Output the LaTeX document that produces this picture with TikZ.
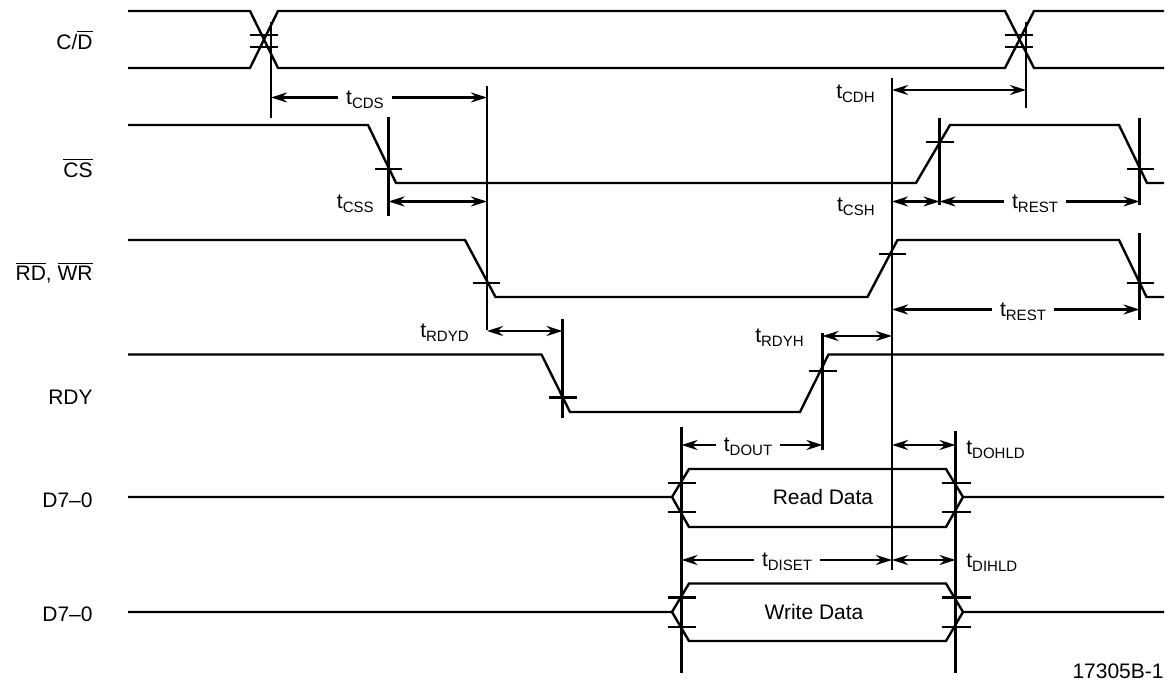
\documentclass[tikz,border=0pt]{standalone}
\usepackage{fontspec}
\setmainfont{Liberation Sans}
\usetikzlibrary{arrows.meta}

\tikzset{
  sig/.style={line width=1.2pt, line join=miter},
  tickline/.style={line width=1.2pt},
  dimline/.style={line width=1.2pt, {Stealth[length=8pt,width=5pt]}-{Stealth[length=8pt,width=5pt]}},
  lbl/.style={font=\fontsize{10.5}{12}\selectfont, inner sep=1pt},
  gaplbl/.style={lbl, fill=white, inner xsep=4pt},
}
\newcommand{\tsub}[1]{t\raisebox{-0.35ex}{\fontsize{7.5}{8}\selectfont #1}}

\begin{document}
\begin{tikzpicture}[x=0.5pt, y=-0.5pt]
  \useasboundingbox (0,0) rectangle (1169,683);

  % signal names
  \node[lbl, anchor=east] (ncd)  at (95,40)  {C/$\overline{\mbox{D}}$};
  \node[lbl, anchor=east] (ncs)  at (95,168) {$\overline{\mbox{CS}}$};
  \node[lbl, anchor=east] (nrw)  at (95,273) {$\overline{\mbox{RD}}$, $\overline{\mbox{WR}}$};
  \node[lbl, anchor=east] (nrdy) at (95,397) {RDY};
  \node[lbl, anchor=east] (nrd)  at (95,500) {D7--0};
  \node[lbl, anchor=east] (nwd)  at (95,614) {D7--0};

  % C/D
  \draw[sig] (128,11) -- (250,11) -- (278,68) -- (1005,68) -- (1034,11) -- (1164,11);
  \draw[sig] (128,68) -- (250,68) -- (278,11) -- (1005,11) -- (1034,68) -- (1164,68);
  \draw[tickline] (271,22) -- (271,118);
  \draw[tickline] (250,35) -- (278,35) (250,47) -- (278,47);
  \draw[tickline] (1026,22) -- (1026,108);
  \draw[tickline] (1005,35) -- (1033,35) (1005,47) -- (1033,47);

  % CS
  \draw[sig] (128,125) -- (368,125) -- (396,183) -- (916,183) -- (950,125)
    -- (1119,125) -- (1147,183) -- (1164,183);
  \draw[tickline] (388.5,117) -- (388.5,216) (375,169) -- (402,169);
  \draw[tickline] (939.5,118) -- (939.5,205) (925.5,142) -- (954,142);
  \draw[tickline] (1139.5,118) -- (1139.5,205) (1126.5,169) -- (1154,169);

  % RD, WR
  \draw[sig] (128,240) -- (465,240) -- (495.5,297) -- (867.5,297) -- (897.5,240)
    -- (1119,240) -- (1146.5,297) -- (1164,297);
  \draw[tickline] (487,86) -- (487,330) (473,283) -- (500,283);
  \draw[tickline] (892,78) -- (892,570) (878.5,254) -- (906,254);
  \draw[tickline] (1139.5,233) -- (1139.5,320) (1126.5,283) -- (1154,283);

  % RDY
  \draw[sig] (128,354.5) -- (541.5,354.5) -- (570,412) -- (800,412) -- (828.5,354.5) -- (1164,354.5);
  \draw[tickline] (562.5,319) -- (562.5,418) (549,397.5) -- (577,397.5);
  \draw[tickline] (822.5,333) -- (822.5,450) (809,371) -- (837,371);

  % D7-0 read
  \draw[sig] (128,497) -- (672,497) -- (689,469) -- (946,469) -- (963,497) -- (1164,497);
  \draw[sig] (672,497) -- (689,527) -- (946,527) -- (963,497);
  \draw[tickline] (668,483) -- (696,483) (668,512) -- (696,512);
  \draw[tickline] (942,483) -- (971,483) (942,512) -- (971,512);
  \node[lbl] (rdata) at (823,497) {Read Data};

  % D7-0 write
  \draw[sig] (128,612) -- (672,612) -- (689,583.5) -- (946,583.5) -- (963,612) -- (1164,612);
  \draw[sig] (672,612) -- (689,641) -- (946,641) -- (963,612);
  \draw[tickline] (668,597.5) -- (696,597.5) (668,627) -- (696,627);
  \draw[tickline] (942,597.5) -- (971,597.5) (942,627) -- (971,627);
  \node[lbl] (wdata) at (814,612) {Write Data};

  \draw[tickline] (681.5,427) -- (681.5,673);
  \draw[tickline] (955.5,431.5) -- (955.5,673);

  % timing arrows
  \draw[dimline] (271,97.5) -- (487,97.5);
  \node[gaplbl] (tcds) at (365,100) {\tsub{CDS}};
  \draw[dimline] (892,90) -- (1026,90);
  \node[lbl, anchor=east] (tcdh) at (877,94) {\tsub{CDH}};
  \draw[dimline] (388.5,201.5) -- (487,201.5);
  \node[lbl, anchor=east] (tcss) at (376,204) {\tsub{CSS}};
  \draw[dimline] (892,201.5) -- (939.5,201.5);
  \node[lbl, anchor=east] (tcsh) at (877,207) {\tsub{CSH}};
  \draw[dimline] (939.5,201.5) -- (1139.5,201.5);
  \node[gaplbl] (trest) at (1035,204) {\tsub{REST}};
  \draw[dimline] (892,309.5) -- (1139.5,309.5);
  \node[gaplbl] (trestb) at (1023,312) {\tsub{REST}};
  \draw[dimline] (487,331) -- (562.5,331);
  \node[lbl, anchor=east] (trdyd) at (471,333) {\tsub{RDYD}};
  \draw[dimline] (822.5,336) -- (892,336);
  \node[lbl, anchor=east] (trdyh) at (806,338) {\tsub{RDYH}};
  \draw[dimline] (681.5,445) -- (822.5,445);
  \node[gaplbl] (tdout) at (748,447) {\tsub{DOUT}};
  \draw[dimline] (892,445) -- (955.5,445);
  \node[lbl, anchor=west] (tdohld) at (964,450) {\tsub{DOHLD}};
  \draw[dimline] (681.5,560) -- (892,560);
  \node[gaplbl] (tdiset) at (787,562) {\tsub{DISET}};
  \draw[dimline] (892,560) -- (955.5,560);
  \node[lbl, anchor=west] (tdihld) at (964,563) {\tsub{DIHLD}};

  \node[lbl, anchor=base east] (fig) at (1166,679) {17305B-1};
\end{tikzpicture}
\end{document}
